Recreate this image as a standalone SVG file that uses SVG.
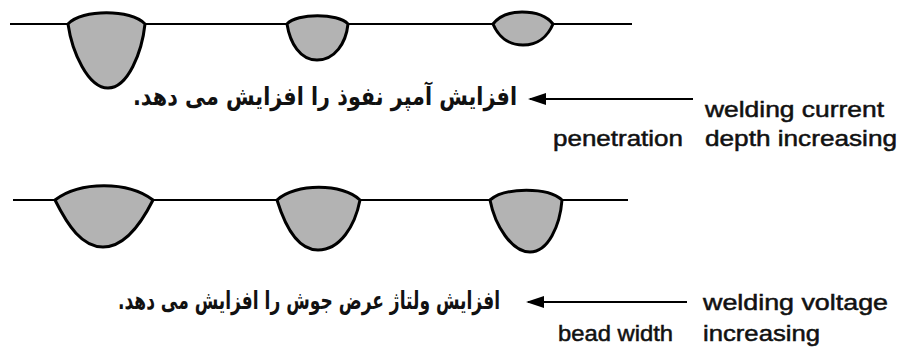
<svg xmlns="http://www.w3.org/2000/svg" width="902" height="349" viewBox="0 0 902 349">
  <style>
    .base { stroke: #000; stroke-width: 2; fill: none; }
    .bead { fill: #b3b3b3; stroke: #000; stroke-width: 3; stroke-linejoin: round; }
    .arrow { stroke: #000; stroke-width: 2; fill: none; marker-end: url(#head); }
    .en { font-family: "Liberation Sans", Arial, sans-serif; font-size: 22px; fill: #111; stroke: #111; stroke-width: 0.5; }
    .fa { font-family: "DejaVu Sans", "Noto Sans", sans-serif; font-size: 25px; font-weight: bold; fill: #111; direction: rtl; unicode-bidi: embed; }
  </style>
  <defs>
    <marker id="head" viewBox="0 0 18 12" refX="16" refY="6" markerWidth="18" markerHeight="12" markerUnits="userSpaceOnUse" orient="auto">
      <path d="M0,0 L18,6 L0,12 Z" fill="#000"/>
    </marker>
  </defs>

  <!-- plate surfaces -->
  <g id="plates">
    <line class="base" x1="10" y1="24" x2="632" y2="24"/>
    <line class="base" x1="13" y1="200" x2="628" y2="200"/>
  </g>

  <!-- current series: penetration shrinks left to right -->
  <g id="bead-current-high">
    <path class="bead" d="M68,24 C82,9 131,9 145,24 C142,52 128,88 108,88 C88,88 72,52 68,24 Z"/>
  </g>
  <g id="bead-current-mid">
    <path class="bead" d="M287,24 C297,13 338,13 348,24 C346,43 335,60 317,60 C300,60 290,43 287,24 Z"/>
  </g>
  <g id="bead-current-low">
    <path class="bead" d="M493,24 C500,15 510,12 522,12 C535,12 546,15 553,24 C548,36 538,45 523,45 C508,45 498,36 493,24 Z"/>
  </g>

  <!-- voltage series: width shrinks left to right -->
  <g id="bead-voltage-high">
    <path class="bead" d="M55,200 C80,181 128,181 153,200 C140,226 124,247 103,247 C82,247 68,226 55,200 Z"/>
  </g>
  <g id="bead-voltage-mid">
    <path class="bead" d="M277,200 C295,183 343,183 360,200 C355,226 340,250 318,250 C298,250 285,226 277,200 Z"/>
  </g>
  <g id="bead-voltage-low">
    <path class="bead" d="M490,200 C505,187 548,187 562,200 C560,226 548,252 530,252 C512,252 495,226 490,200 Z"/>
  </g>

  <!-- connectors -->
  <g id="connectors">
    <line class="arrow" x1="693" y1="99" x2="530" y2="99"/>
    <line class="arrow" x1="687" y1="302" x2="528" y2="302"/>
  </g>

  <!-- labels -->
  <g id="label-current">
    <text class="fa" x="325" y="105" text-anchor="middle" textLength="384" lengthAdjust="spacingAndGlyphs">افزایش آمپر نفوذ را افزایش می دهد.</text>
    <text class="en" x="705" y="117" textLength="179" lengthAdjust="spacingAndGlyphs">welding current</text>
    <text class="en" x="553" y="146" textLength="130" lengthAdjust="spacingAndGlyphs">penetration</text>
    <text class="en" x="705" y="146" textLength="192" lengthAdjust="spacingAndGlyphs">depth increasing</text>
  </g>
  <g id="label-voltage">
    <text class="fa" x="309" y="309" text-anchor="middle" textLength="382" lengthAdjust="spacingAndGlyphs">افزایش ولتاژ عرض جوش را افزایش می دهد.</text>
    <text class="en" x="703" y="310" textLength="185" lengthAdjust="spacingAndGlyphs">welding voltage</text>
    <text class="en" x="558" y="341" textLength="115" lengthAdjust="spacingAndGlyphs">bead width</text>
    <text class="en" x="703" y="341" textLength="117" lengthAdjust="spacingAndGlyphs">increasing</text>
  </g>
</svg>
